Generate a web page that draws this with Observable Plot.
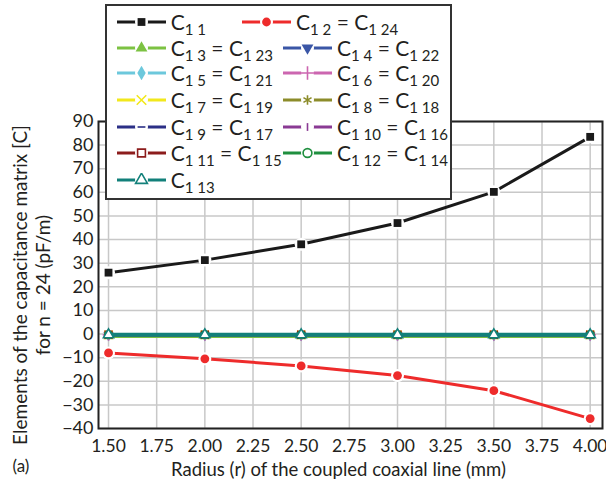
<!DOCTYPE html>
<html><head><meta charset="utf-8">
<script src="https://cdn.jsdelivr.net/npm/d3@7"></script>
<script src="https://cdn.jsdelivr.net/npm/@observablehq/plot@0.6"></script>
<style>
body{margin:0;background:#fff;font-family:Lato,"Open Sans",sans-serif;}
#wrap{position:relative;width:606px;height:488px;}
#legend{position:absolute;left:105px;top:4px;width:343px;height:192px;border:2px solid #333;background:#fff;}
.item{position:absolute;height:24px;display:flex;align-items:center;font-size:21px;line-height:20px;color:#231f20;white-space:nowrap;}
.item svg{margin-right:5px;}
.item sub{font-size:15px;vertical-align:-5px;line-height:0;}
</style></head>
<body><div id="wrap"><div id="chart"></div><div id="legend"></div></div>
<script>
// ---- data ----
const radius = [1.5, 2.0, 2.5, 3.0, 3.5, 4.0];
const xTicks = [1.5, 1.75, 2.0, 2.25, 2.5, 2.75, 3.0, 3.25, 3.5, 3.75, 4.0];
const yTicks = [-40, -30, -20, -10, 0, 10, 20, 30, 40, 50, 60, 70, 80, 90];
const C11  = [26, 31.3, 38, 47, 60.2, 83.5];
const C12  = [-8, -10.5, -13.5, -17.6, -24, -35.8];
const C13  = [-1.0, -1.0, -1.0, -1.0, -1.0, -1.0];
const C14  = [-0.5, -0.5, -0.5, -0.5, -0.5, -0.5];
const C15  = [-0.4, -0.4, -0.4, -0.4, -0.4, -0.4];
const C16  = [-0.35, -0.35, -0.35, -0.35, -0.35, -0.35];
const C17  = [-0.3, -0.3, -0.3, -0.3, -0.3, -0.3];
const C18  = [-0.3, -0.3, -0.3, -0.3, -0.3, -0.3];
const C19  = [-0.3, -0.3, -0.3, -0.3, -0.3, -0.3];
const C110 = [-0.3, -0.3, -0.3, -0.3, -0.3, -0.3];
const C111 = [-0.3, -0.3, -0.3, -0.3, -0.3, -0.3];
const C112 = [-0.3, -0.3, -0.3, -0.3, -0.3, -0.3];
const C113 = [-0.3, -0.3, -0.3, -0.3, -0.3, -0.3];
const seriesValues = [C11, C12, C13, C14, C15, C16, C17, C18, C19, C110, C111, C112, C113];
const seriesLabels = [["1 1"], ["1 2", "1 24"], ["1 3", "1 23"], ["1 4", "1 22"], ["1 5", "1 21"], ["1 6", "1 20"],
  ["1 7", "1 19"], ["1 8", "1 18"], ["1 9", "1 17"], ["1 10", "1 16"], ["1 11", "1 15"], ["1 12", "1 14"], ["1 13"]];
const yLabel = "Elements of the capacitance matrix [C]\nfor n = 24 (pF/m)";
const xLabel = "Radius (r) of the coupled coaxial line (mm)";
const panelLabel = "(a)";

// ---- styles ----
function tri(down) {
  return {draw(ctx, size) {
    const R = Math.sqrt(size / 1.299);
    const s = down ? -1 : 1;
    ctx.moveTo(0, -s * R);
    ctx.lineTo(R * 0.866, s * R / 2);
    ctx.lineTo(-R * 0.866, s * R / 2);
    ctx.closePath();
  }};
}
const dashSym = {draw(ctx, size) { const r = Math.sqrt(size) * 0.5; ctx.moveTo(-r, 0); ctx.lineTo(r, 0); }};
const vbarSym = {draw(ctx, size) { const r = Math.sqrt(size) * 0.5; ctx.moveTo(0, -r); ctx.lineTo(0, r); }};
const colors = ["#1a1a1a", "#ee2b2b", "#7cc242", "#3a56a6", "#6cc8dc", "#cc66b0", "#f2e81c", "#8c8c2a", "#2b2f86", "#8a3a94", "#8c1c1c", "#1f8f3f", "#12807a"];
const symbols = ["square", "circle", tri(false), tri(true), "diamond", "plus", "times", "asterisk", dashSym, vbarSym, "square", "circle", tri(false)];
const fills = ["fill", "fill", "fill", "fill", "fill", "none", "none", "none", "none", "none", "white", "white", "white"];

const marks = [
  Plot.gridX(xTicks, {stroke: "#c8c8c8", strokeOpacity: 1, strokeWidth: 1.5}),
  Plot.gridY(yTicks, {stroke: "#c8c8c8", strokeOpacity: 1, strokeWidth: 1.5}),
  Plot.axisX(xTicks, {tickSize: 0, tickPadding: 11, fontSize: 17.5, tickFormat: d => d.toFixed(2), label: null, fill: "#231f20"}),
  Plot.axisY(yTicks, {tickSize: 0, tickPadding: 5, fontSize: 18, label: null, fill: "#231f20"}),
  Plot.frame({stroke: "#222", strokeWidth: 2})
];
seriesValues.forEach((vals, i) => {
  const data = radius.map((r, k) => ({r, v: vals[k]}));
  const c = colors[i];
  const flat = i >= 2;
  marks.push(Plot.line(data, {x: "r", y: "v", stroke: c, strokeWidth: i === 12 ? 4 : 3}));
  if (!flat) marks.push(Plot.dot(data, {x: "r", y: "v", r: 6.5, fill: "white", stroke: "none", symbol: "circle"}));
  const f = fills[i] === "fill" ? c : fills[i];
  marks.push(Plot.dot(data, {x: "r", y: "v", r: flat ? 3.8 : 4.4, symbol: symbols[i], fill: f, fillOpacity: 1,
    stroke: fills[i] === "fill" ? "none" : c, strokeWidth: 1.6}));
});
marks.push(Plot.text([yLabel], {frameAnchor: "left", rotate: -90, dx: -67, dy: 10, fontSize: 19, lineHeight: 1.2, fill: "#231f20", textAnchor: "middle", lineAnchor: "middle"}));
marks.push(Plot.text([xLabel], {frameAnchor: "bottom", lineAnchor: "middle", dx: -12, dy: 42, fontSize: 18.5, fill: "#231f20"}));
marks.push(Plot.text([panelLabel], {frameAnchor: "bottom-left", lineAnchor: "middle", dx: -86, dy: 38, fontSize: 17, fill: "#231f20", textAnchor: "start"}));

const chart = Plot.plot({
  width: 606, height: 488,
  marginLeft: 98, marginRight: 4, marginTop: 121, marginBottom: 60,
  x: {domain: [1.448, 4.064], label: null},
  y: {domain: [-40, 90], label: null},
  style: {fontFamily: "Lato, 'Open Sans', sans-serif", background: "white", overflow: "visible"},
  marks
});
document.getElementById("chart").appendChild(chart);

// ---- legend ----
const legend = document.getElementById("legend");
const rowTop = [3.7, 30.3, 55.3, 82, 108.7, 135.3, 162];
seriesLabels.forEach((lab, i) => {
  const row = Math.floor(i / 2), col = i % 2;
  const div = document.createElement("div");
  div.className = "item";
  div.style.left = (col === 0 ? 9.7 : (row === 0 ? 135 : 176)) + "px";
  div.style.top = rowTop[row] + "px";
  const c = colors[i];
  const svg = d3.create("svg").attr("width", 49).attr("height", 14);
  svg.append("line").attr("x1", 0).attr("x2", 49).attr("y1", 7).attr("y2", 7).attr("stroke", c).attr("stroke-width", 3);
  svg.append("circle").attr("cx", 24.5).attr("cy", 7).attr("r", 6.5).attr("fill", "white");
  const type = typeof symbols[i] === "string" ? {square: d3.symbolSquare, circle: d3.symbolCircle, diamond: d3.symbolDiamond,
    plus: d3.symbolPlus, times: d3.symbolTimes, asterisk: d3.symbolAsterisk}[symbols[i]] : symbols[i];
  const f = fills[i] === "fill" ? c : fills[i];
  svg.append("path").attr("transform", "translate(24.5,7)")
    .attr("d", d3.symbol(type, Math.PI * 4.4 * 4.4)())
    .attr("fill", f).attr("stroke", fills[i] === "fill" ? "none" : c).attr("stroke-width", 1.6);
  div.appendChild(svg.node());
  const span = document.createElement("span");
  span.innerHTML = lab.map(s => "C<sub>" + s + "</sub>").join(" = ");
  div.appendChild(span);
  legend.appendChild(div);
});
</script></body></html>
